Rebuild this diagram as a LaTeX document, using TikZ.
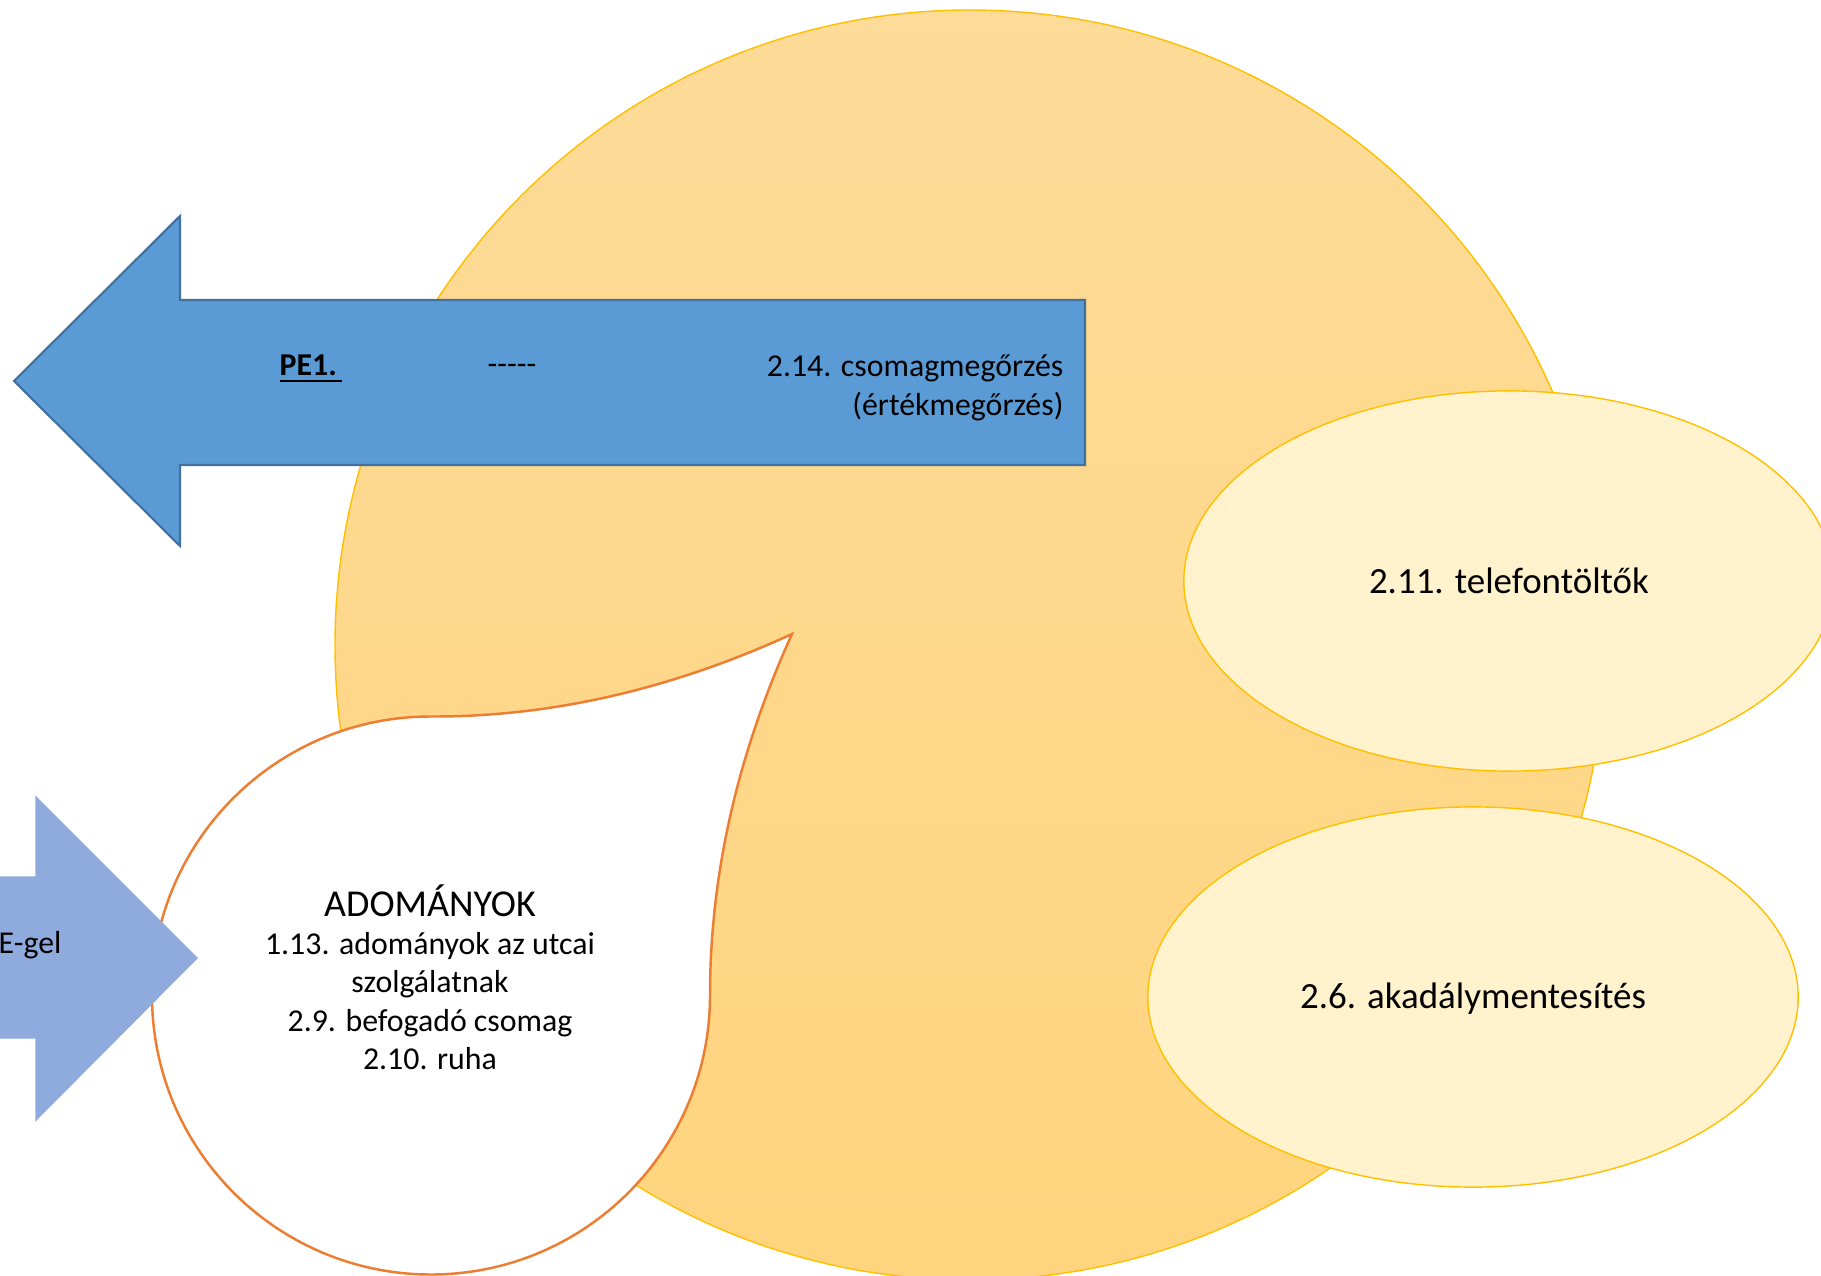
\documentclass[tikz,border=0pt]{standalone}
\usepackage{fontspec}
\setmainfont{Carlito}
\usetikzlibrary{shapes.geometric}
\definecolor{circtop}{RGB}{253,219,152}
\definecolor{circbot}{RGB}{255,212,126}
\definecolor{gold}{RGB}{255,192,0}
\definecolor{paleyel}{RGB}{255,242,204}
\definecolor{blueA}{RGB}{91,155,213}
\definecolor{blueEdge}{RGB}{65,113,156}
\definecolor{blueB}{RGB}{143,170,220}
\definecolor{orng}{RGB}{237,125,49}
\begin{document}
\begin{tikzpicture}[x=0.01cm, y=-0.01cm,
  txt/.style={inner sep=0pt, font=\fontsize{9.05}{10.9}\selectfont},
  oval/.style={shape=ellipse, draw=gold, fill=paleyel, line width=0.4pt,
    minimum width=6.5cm, minimum height=3.8cm, inner sep=0pt,
    font=\fontsize{10.5}{12.6}\selectfont}]
\useasboundingbox (0,0) rectangle (1821,1276);
\clip (0,0) rectangle (1821,1276);
% big background circle
\draw[gold, line width=0.4pt, top color=circtop, bottom color=circbot] (970,645) circle (635);
% PE1 arrow
\draw[blueEdge, fill=blueA, line width=0.6pt] (14,381) -- (180,216) -- (180,300) -- (1085,300)
  -- (1085,465) -- (180,465) -- (180,546) -- cycle;
\node[txt, anchor=west] (pe) at (279,369) {\underline{\textbf{PE1.}\,}};
\node[txt] (dash) at (512,369) {{-}{-}{-}{-}{-}};
\node[txt, anchor=east, align=right] (csomag) at (1064,388) {2.14. csomagmegőrzés\\(értékmegőrzés)};
% ovals
\node[oval] (telefon) at (1509,581) {2.11. telefontöltők};
\node[oval] (akadaly) at (1473,997) {};
\node[txt, font=\fontsize{10.5}{12.6}\selectfont] (akadalytxt) at (1473,999) {2.6. akadálymentesítés};
% drop
\draw[orng, fill=white, line width=0.7pt] (151.5,995.5) arc[start angle=180, end angle=270, radius=279]
  .. controls (551,717) and (671.5,689.3) .. (792,634)
  .. controls (737.3,754.5) and (710,875) .. (710,995.5)
  arc[start angle=0, end angle=180, radius=279] -- cycle;
\node[txt, align=center] (adomany) at (430,977)
  {{\fontsize{10.8}{12.4}\selectfont ADOMÁNYOK}\\1.13. adományok az utcai\\szolgálatnak\\2.9. befogadó csomag\\2.10. ruha};
% incoming arrow
\draw[blueB, fill=blueB] (-20,877) -- (36,877) -- (36,797) -- (197,958) -- (36,1120) -- (36,1038)
  -- (-20,1038) -- cycle;
\node[txt, anchor=west] (egel) at (-2,945) {E-gel};
\end{tikzpicture}
\end{document}
